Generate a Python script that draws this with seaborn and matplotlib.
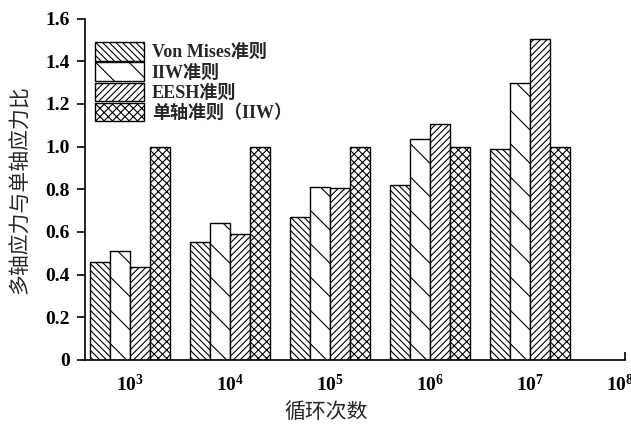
import matplotlib
matplotlib.use("Agg")
import matplotlib.pyplot as plt
import pandas as pd
import seaborn as sns
from matplotlib.patches import Patch

# Data: ratio of multiaxial to uniaxial stress at each fatigue life
cycles = ["$10^{3}$", "$10^{4}$", "$10^{5}$", "$10^{6}$", "$10^{7}$"]
end_label = "$10^{8}$"
criteria = ["Von Mises准则", "IIW准则", "EESH准则", "单轴准则（IIW）"]
von_mises = [0.457, 0.553, 0.672, 0.819, 0.989]
iiw = [0.512, 0.643, 0.812, 1.034, 1.299]
eesh = [0.438, 0.592, 0.807, 1.105, 1.503]
uniaxial = [1.0, 1.0, 1.0, 1.0, 1.0]
y_ticks = [0, 0.2, 0.4, 0.6, 0.8, 1.0, 1.2, 1.4, 1.6]
y_tick_labels = ["0", "0.2", "0.4", "0.6", "0.8", "1.0", "1.2", "1.4", "1.6"]

hatches = ["\\\\\\\\\\", "\\", "/////", "xxxx"]

sns.set_theme(style="white")
plt.rcParams["font.family"] = ["Liberation Serif", "Noto Sans CJK SC"]
plt.rcParams["font.weight"] = "bold"
plt.rcParams["mathtext.fontset"] = "custom"
plt.rcParams["mathtext.rm"] = "Liberation Serif:bold"
plt.rcParams["mathtext.it"] = "Liberation Serif:bold"
plt.rcParams["mathtext.bf"] = "Liberation Serif:bold"
plt.rcParams["hatch.linewidth"] = 0.8
plt.rcParams["hatch.color"] = "black"

series = [von_mises, iiw, eesh, uniaxial]
rows = []
for name, vals in zip(criteria, series):
    for c, v in zip(cycles, vals):
        rows.append({"cycle": c, "criterion": name, "ratio": v})
df = pd.DataFrame(rows)

fig = plt.figure(figsize=(6.31, 4.25), dpi=100)
ax = fig.add_axes([85 / 631, 1 - 360 / 425, 540 / 631, (360 - 18.5) / 425])

sns.barplot(data=df, x="cycle", y="ratio", hue="criterion",
            order=cycles, hue_order=criteria,
            palette=["white"] * 4, edgecolor="black", linewidth=1.0,
            width=0.8, gap=0, errorbar=None, legend=False, ax=ax,
            saturation=1)

for container, h in zip(ax.containers, hatches):
    for bar in container:
        bar.set_hatch(h)

ax.set_xlim(-0.45, 4.95)
ax.set_ylim(0, 1.6)
ax.set_yticks(y_ticks)
ax.set_yticklabels(y_tick_labels)
ax.set_xticks(list(range(len(cycles))) + [4.9])
ax.set_xticklabels(cycles + [end_label])
ax.set_xticks([4.95], minor=True)

for s in ["top", "right"]:
    ax.spines[s].set_visible(False)
for s in ["left", "bottom"]:
    ax.spines[s].set_color("black")
    ax.spines[s].set_linewidth(1.2)

ax.tick_params(axis="y", which="major", direction="out", length=6, width=1.2,
               colors="black", labelsize=14, pad=5, left=True)
ax.tick_params(axis="x", which="major", length=0, labelsize=14, pad=10,
               colors="black")
ax.tick_params(axis="x", which="minor", direction="in", length=6, width=1.2,
               bottom=True, colors="black")

ax.set_ylabel("多轴应力与单轴应力比", fontsize=15, fontweight="normal",
              family=["Noto Sans CJK SC"])
ax.yaxis.set_label_coords((31 - 85) / 540, 0.5)
ax.set_xlabel("循环次数", fontsize=15, fontweight="normal",
              family=["Noto Sans CJK SC"])
ax.xaxis.set_label_coords((326 - 85) / 540, -(401 - 360) / 341.5)

handles = [Patch(facecolor="white", edgecolor="black", hatch=h, label=l,
                 linewidth=1.0)
           for h, l in zip(hatches, criteria)]
ax.legend(handles=handles, loc="upper left",
          bbox_to_anchor=(95 / 631, 1 - 42 / 425),
          bbox_transform=fig.transFigure, frameon=False,
          borderpad=0, borderaxespad=0, handlelength=2.7, handleheight=1.2,
          labelspacing=0.05, handletextpad=0.45,
          prop={"family": ["Liberation Serif", "Noto Sans CJK SC"],
                "weight": "bold", "size": 13})

fig.savefig("out.png", dpi=100)
